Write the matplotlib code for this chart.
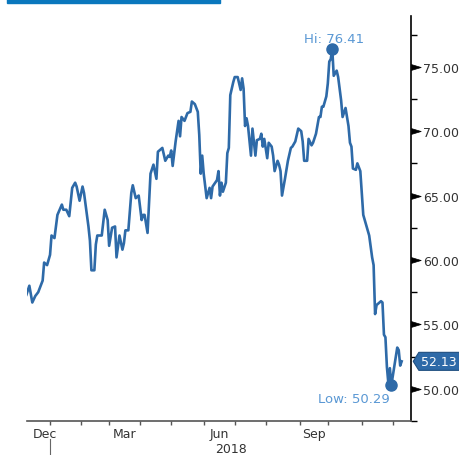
import pandas as pd
import matplotlib
matplotlib.use("Agg")
import matplotlib.pyplot as plt
from matplotlib.path import Path
from matplotlib.patches import Rectangle

# daily closes (trading days only)
dates = [
    "2017-12-07", "2017-12-11", "2017-12-13", "2017-12-15", "2017-12-19", "2017-12-22",
    "2017-12-26", "2017-12-28", "2018-01-02", "2018-01-03", "2018-01-05", "2018-01-09",
    "2018-01-12", "2018-01-16", "2018-01-18", "2018-01-22", "2018-01-24", "2018-01-26",
    "2018-01-29", "2018-01-31", "2018-02-02", "2018-02-05", "2018-02-08", "2018-02-09",
    "2018-02-12", "2018-02-14", "2018-02-15", "2018-02-16", "2018-02-22", "2018-02-26",
    "2018-02-28", "2018-03-01", "2018-03-05", "2018-03-07", "2018-03-08", "2018-03-12",
    "2018-03-14", "2018-03-15", "2018-03-16", "2018-03-20", "2018-03-22", "2018-03-23",
    "2018-03-27", "2018-03-29", "2018-04-03", "2018-04-04", "2018-04-05", "2018-04-09",
    "2018-04-11", "2018-04-13", "2018-04-17", "2018-04-18", "2018-04-23", "2018-04-25",
    "2018-04-27", "2018-04-30", "2018-05-01", "2018-05-02", "2018-05-04", "2018-05-08",
    "2018-05-09", "2018-05-10", "2018-05-14", "2018-05-16", "2018-05-18", "2018-05-21",
    "2018-05-23", "2018-05-25", "2018-05-29", "2018-05-30", "2018-05-31", "2018-06-01",
    "2018-06-05", "2018-06-07", "2018-06-08", "2018-06-11", "2018-06-14", "2018-06-15",
    "2018-06-18", "2018-06-19", "2018-06-20", "2018-06-22", "2018-06-25", "2018-06-26",
    "2018-06-27", "2018-06-29", "2018-07-02", "2018-07-05", "2018-07-09", "2018-07-10",
    "2018-07-11", "2018-07-12", "2018-07-13", "2018-07-16", "2018-07-18", "2018-07-19",
    "2018-07-23", "2018-07-24", "2018-07-26", "2018-07-27", "2018-07-30", "2018-07-31",
    "2018-08-02", "2018-08-03", "2018-08-07", "2018-08-08", "2018-08-09", "2018-08-13",
    "2018-08-14", "2018-08-15", "2018-08-16", "2018-08-20", "2018-08-22", "2018-08-24",
    "2018-08-27", "2018-08-29", "2018-08-31", "2018-09-05", "2018-09-06", "2018-09-07",
    "2018-09-11", "2018-09-12", "2018-09-14", "2018-09-17", "2018-09-19", "2018-09-21",
    "2018-09-24", "2018-09-25", "2018-09-26", "2018-09-28", "2018-10-01", "2018-10-02",
    "2018-10-03", "2018-10-04", "2018-10-05", "2018-10-09", "2018-10-10", "2018-10-12",
    "2018-10-15", "2018-10-17", "2018-10-19", "2018-10-22", "2018-10-23", "2018-10-24",
    "2018-10-26", "2018-10-29", "2018-10-31", "2018-11-02", "2018-11-05", "2018-11-06",
    "2018-11-08", "2018-11-12", "2018-11-13", "2018-11-14", "2018-11-15", "2018-11-20",
    "2018-11-21", "2018-11-23", "2018-11-26", "2018-11-27", "2018-11-28", "2018-11-29",
    "2018-11-30", "2018-12-03", "2018-12-07", "2018-12-10", "2018-12-11", "2018-12-12",
]
prices = [
    57.3, 58.0, 56.7, 57.2, 57.5, 58.4,
    59.8, 59.6, 60.4, 61.9, 61.7, 63.5,
    64.3, 63.9, 63.9, 63.4, 65.6, 66.0,
    65.7, 64.6, 65.7, 65.2, 62.6, 61.5,
    59.2, 59.2, 61.2, 61.9, 61.9, 63.9,
    63.1, 61.1, 62.5, 62.6, 60.2, 61.9,
    60.8, 61.3, 62.3, 62.3, 65.2, 65.8,
    64.8, 65.0, 63.1, 63.5, 63.5, 62.1,
    66.7, 67.4, 66.3, 68.4, 68.7, 67.7,
    68.1, 68.0, 68.5, 67.3, 69.2, 70.8,
    69.6, 71.1, 70.8, 71.4, 71.5, 72.3,
    72.1, 71.5, 69.7, 66.7, 68.1, 66.7,
    64.8, 65.6, 64.8, 65.7, 66.2, 66.9,
    65.0, 66.0, 65.3, 66.0, 68.3, 68.7,
    72.8, 73.8, 74.2, 74.2, 73.2, 74.1,
    73.3, 70.4, 71.0, 70.4, 68.1, 70.2,
    68.1, 69.3, 69.4, 69.8, 68.8, 69.4,
    67.9, 69.1, 68.8, 68.1, 66.9, 67.7,
    67.4, 66.9, 65.0, 66.3, 67.7, 68.7,
    68.8, 69.2, 70.2, 70.0, 69.2, 67.7,
    67.7, 69.4, 68.9, 69.1, 69.8, 71.1,
    71.1, 71.9, 71.9, 72.7, 73.7, 75.4,
    75.6, 76.41, 74.3, 74.7, 74.2, 72.4,
    71.1, 71.8, 70.4, 69.1, 68.8, 67.1,
    67.0, 67.5, 66.9, 63.5, 63.1, 62.7,
    61.9, 60.2, 59.6, 55.8, 56.5, 56.8,
    56.7, 54.2, 54.0, 51.7, 50.4, 51.6,
    50.29, 51.0, 53.2, 53.0, 51.8, 52.13,
]

holidays = ["2017-12-25", "2018-01-01", "2018-01-15", "2018-02-19", "2018-03-30",
            "2018-05-28", "2018-07-04", "2018-09-03", "2018-11-22", "2018-12-05",
            "2018-12-25"]
tick_months = pd.period_range("2018-01", "2018-12", freq="M")
label_months = {"Dec": "2017-12", "Mar": "2018-03", "Jun": "2018-06", "Sep": "2018-09"}
year_label = "2018"
y_ticks = [50, 55, 60, 65, 70, 75]
y_minor = [47.5, 52.5, 57.5, 62.5, 67.5, 72.5, 77.5]

LINE = "#2e6aa8"
NOTE = "#5a98d4"
TXT = "#333333"

# x axis = trading day index, 0 = first session of 2018
cal = pd.bdate_range("2017-11-01", "2019-01-31", freq="C", holidays=holidays)
origin = cal.get_loc(pd.Timestamp("2018-01-02"))
idx = pd.Series(range(len(cal)), index=cal) - origin
month_start = idx.groupby(cal.to_period("M")).first()

x = idx.loc[pd.to_datetime(dates)].values
y = pd.Series(prices)
xlo, xhi = -15.6, 244.3

fig = plt.figure(figsize=(4.59, 4.56), dpi=100)
ax = fig.add_axes([0.0588, 0.0746, 0.8366, 0.8881])
fig.patches.append(Rectangle((7 / 459, 1 - 4 / 456), 213 / 459, 4 / 456,
                             transform=fig.transFigure, color="#0a77bd", zorder=5))

ax.plot(x, y, color=LINE, lw=1.9, solid_joinstyle="round", zorder=3)

# high / low markers
hi, lo = y.idxmax(), y.idxmin()
ax.plot(x[hi], y[hi], "o", ms=8, color=LINE, zorder=4)
ax.plot(x[lo], y[lo], "o", ms=8, color=LINE, zorder=4)
ax.annotate(f"Hi: {y[hi]:.2f}", (x[hi], y[hi]), xytext=(1, 5), textcoords="offset points",
            ha="center", va="baseline", color=NOTE, fontsize=9.5)
ax.annotate(f"Low: {y[lo]:.2f}", (x[lo], y[lo]), xytext=(-1, -12.5), textcoords="offset points",
            ha="right", va="baseline", color=NOTE, fontsize=9.5)


def tag_box(x0, y0, width, height, mutation_size):
    pad = mutation_size * 0.2
    x0, y0 = x0 - pad, y0 - pad
    x1, y1 = x0 + width + 2 * pad, y0 + height + 2 * pad
    tip = mutation_size * 0.45
    return Path([(x0, y0), (x1, y0), (x1, y1), (x0, y1), (x0 - tip, (y0 + y1) / 2),
                 (x0, y0), (x0, y0)], closed=True)


ax.text(1.027, y.iloc[-1], f"{y.iloc[-1]:.2f}", transform=ax.get_yaxis_transform(),
        ha="left", va="center", color="white", fontsize=9, clip_on=False,
        bbox=dict(boxstyle=tag_box, fc=LINE, ec="#1f4f80", lw=0.8))

ax.set_xlim(xlo, xhi)
ax.set_ylim(47.68, 78.94)

for s in ["left", "top"]:
    ax.spines[s].set_visible(False)
ax.spines["right"].set_color("black")
ax.spines["right"].set_linewidth(1.2)
ax.spines["bottom"].set_color("#555555")
ax.spines["bottom"].set_linewidth(1.2)

# y axis on the right, triangle major ticks
ax.yaxis.tick_right()
ax.set_yticks(y_ticks)
ax.set_yticks(y_minor, minor=True)
ax.set_yticklabels([f"{v:.2f}" for v in y_ticks])
ax.tick_params(axis="y", which="major", length=3, pad=6, labelsize=9, labelcolor=TXT)
ax.tick_params(axis="y", which="minor", length=4, width=1, color="black", direction="out")
arrow = Path([(0, -0.3), (1, 0), (0, 0.3), (0, -0.3)], closed=True)
for t in ax.yaxis.get_major_ticks():
    t.tick2line.set_marker(arrow)
    t.tick2line.set_markersize(14)
    t.tick2line.set_markerfacecolor("black")
    t.tick2line.set_markeredgecolor("black")
    t.tick2line.set_markeredgewidth(0.5)

# month ticks at first session of each month, quarter labels centred in month
ax.set_xticks([month_start[m] for m in tick_months])
ax.tick_params(axis="x", which="major", length=3, width=1, color="#555555", labelbottom=False)
centres = []
for name, m in label_months.items():
    p = pd.Period(m, freq="M")
    start = month_start[p]
    if start < xlo:
        # partly visible month: label sits nearer the year break
        start = xlo + 9
    centres.append((start + month_start[p + 1]) / 2)
ax.set_xticks(centres, minor=True)
ax.set_xticklabels(list(label_months), minor=True)
ax.tick_params(axis="x", which="minor", length=0, pad=4, labelsize=9, labelcolor=TXT)

# year separator and year label
jan = month_start[tick_months[0]]
ax.plot([jan, jan], [-0.044, -0.086], color="#666666", lw=0.8,
        transform=ax.get_xaxis_transform(), clip_on=False)
ax.text((jan + xhi) / 2, -0.067, year_label, transform=ax.get_xaxis_transform(),
        ha="center", va="center", fontsize=9, color=TXT)

fig.savefig("out.png", dpi=100)
